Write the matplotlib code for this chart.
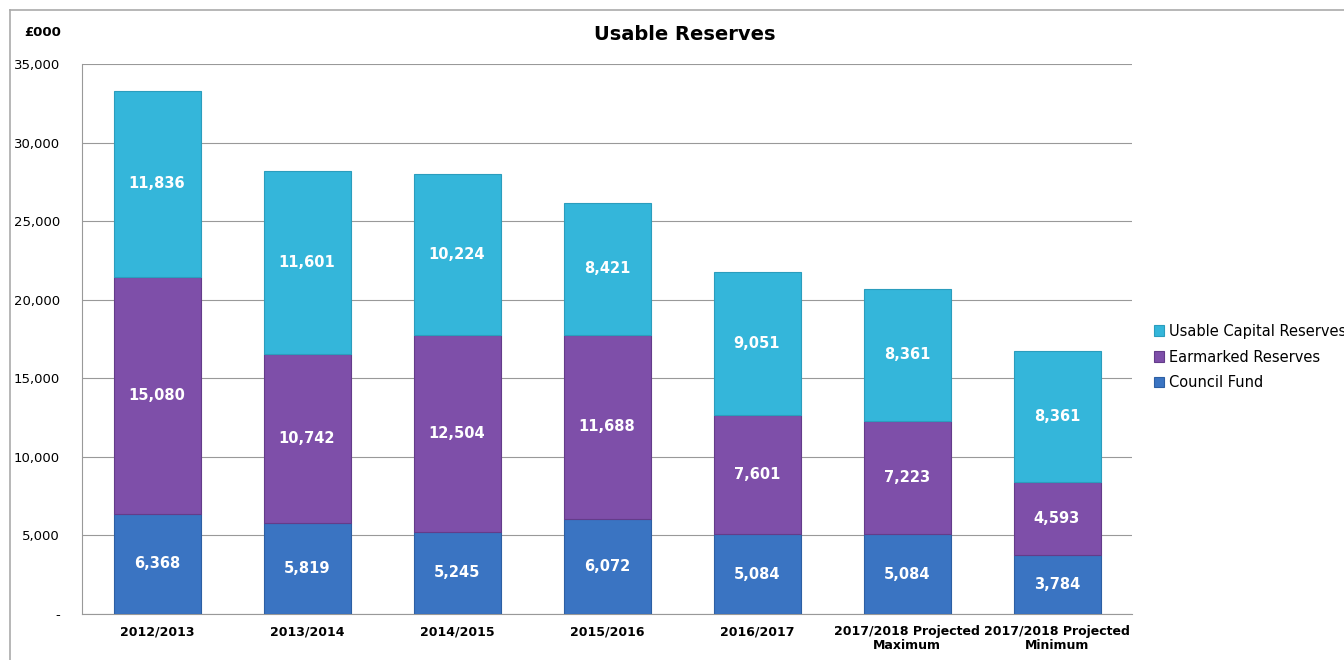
import matplotlib
matplotlib.use("Agg")
import matplotlib.pyplot as plt
from matplotlib.lines import Line2D

categories = ["2012/2013", "2013/2014", "2014/2015", "2015/2016", "2016/2017",
              "2017/2018 Projected\nMaximum", "2017/2018 Projected\nMinimum"]
council_fund = [6368, 5819, 5245, 6072, 5084, 5084, 3784]
earmarked = [15080, 10742, 12504, 11688, 7601, 7223, 4593]
capital = [11836, 11601, 10224, 8421, 9051, 8361, 8361]
yticks = [0, 5000, 10000, 15000, 20000, 25000, 30000, 35000]
ytick_labels = ["-", "5,000", "10,000", "15,000", "20,000", "25,000", "30,000", "35,000"]

series = [("Council Fund", council_fund, "#3a74c2", "#2d5fa3"),
          ("Earmarked Reserves", earmarked, "#7e4fa9", "#643c8a"),
          ("Usable Capital Reserves", capital, "#34b6da", "#2b9dbd")]

fig = plt.figure(figsize=(13.44, 6.6), dpi=100)
# outer frame
fig.add_artist(Line2D([10/1344, 10/1344], [0, 1 - 10/660], transform=fig.transFigure, color="#aaaaaa", lw=1.2))
fig.add_artist(Line2D([10/1344, 1], [1 - 10/660, 1 - 10/660], transform=fig.transFigure, color="#aaaaaa", lw=1.2))

ax = fig.add_axes([82/1344, 46/660, 1050/1344, 550/660])
x = list(range(len(categories)))
bottoms = [0] * len(categories)
handles = []
for name, vals, col, edge in series:
    bars = ax.bar(x, vals, bottom=bottoms, width=0.58, color=col, edgecolor=edge,
                  linewidth=0.8, zorder=3, label=name)
    for xi, v, b in zip(x, vals, bottoms):
        ax.text(xi, b + v / 2, f"{v:,}", ha="center", va="center", color="white",
                fontsize=10.5, fontweight="bold", zorder=4)
    bottoms = [b + v for b, v in zip(bottoms, vals)]
    handles.append(bars)

ax.set_ylim(0, 35000)
ax.set_xlim(-0.5, len(categories) - 0.5)
ax.set_yticks(yticks)
ax.set_yticklabels(ytick_labels, fontsize=9.5)
ax.set_xticks(x)
ax.set_xticklabels(categories, fontsize=9, fontweight="bold", linespacing=1.1)
ax.tick_params(axis="both", length=0, pad=8)
ax.tick_params(axis="y", pad=16)
ax.grid(axis="y", color="#999999", lw=0.8, zorder=0)
for s in ["top", "right"]:
    ax.spines[s].set_visible(False)
for s in ["left", "bottom"]:
    ax.spines[s].set_color("#999999")

fig.text(685/1344, 1 - 34/660, "Usable Reserves", ha="center", va="center",
         fontsize=14, fontweight="bold")
fig.text(43/1344, 1 - 32/660, "£000", ha="center", va="center", fontsize=9.5, fontweight="bold")

leg_handles = [handles[2], handles[1], handles[0]]
leg_labels = ["Usable Capital Reserves", "Earmarked Reserves", "Council Fund"]
fig.legend(leg_handles, leg_labels, loc="center left", bbox_to_anchor=(1154/1344, 1 - 357/660),
           frameon=False, fontsize=10.5, handlelength=0.7, handleheight=0.7,
           handletextpad=0.3, labelspacing=0.75, borderaxespad=0, borderpad=0)

fig.savefig("out.png", dpi=100)
